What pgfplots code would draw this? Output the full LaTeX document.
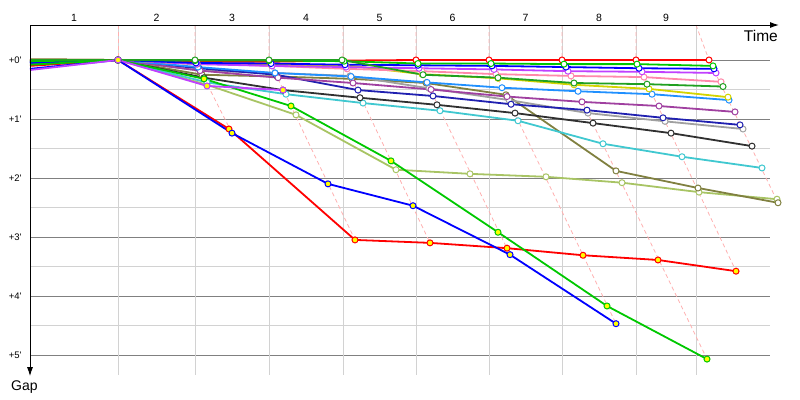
\documentclass[border=0pt]{standalone}
\usepackage{pgfplots}
\pgfplotsset{compat=1.18}
\usepackage{fontspec}
\setmainfont{Liberation Sans}
\usetikzlibrary{arrows.meta}
\definecolor{cLG}{HTML}{A8C464}
\definecolor{cOL}{HTML}{808040}
\definecolor{cCY}{HTML}{40C8D0}
\definecolor{cBK}{HTML}{303030}
\definecolor{cGR}{HTML}{A0A0A0}
\definecolor{cNV}{HTML}{2020B0}
\definecolor{cPU}{HTML}{A040A0}
\definecolor{cSB}{HTML}{2090FF}
\definecolor{cYE}{HTML}{D4D400}
\definecolor{cPK}{HTML}{FF88AA}
\definecolor{cDG}{HTML}{20A020}
\definecolor{cVI}{HTML}{C040FF}
\definecolor{cBL}{HTML}{0000FF}
\definecolor{cGN}{HTML}{00C800}
\definecolor{cRD}{HTML}{FF0000}
\definecolor{cYF}{HTML}{FFFF00}
\definecolor{lapline}{HTML}{FFB0B0}
\definecolor{gridlight}{HTML}{D2D2D2}
\definecolor{griddark}{HTML}{808080}
\pgfplotsset{
  drv/.style={line width=1.8pt, mark=*, mark repeat=1, mark phase=2, mark size=3pt,
    mark options={fill=white, line width=1pt, solid}},
  lag/.style={line width=1.8pt, mark=*, mark repeat=1, mark phase=2, mark size=3pt,
    mark options={fill=cYF, line width=1pt, solid}},
  lap/.style={lapline, line width=0.8pt, dash pattern=on 4pt off 3pt, no marks}
}
\begin{document}
\begin{tikzpicture}
\begin{axis}[
  scale only axis, width=740pt, height=350pt,
  xmin=30, xmax=770, ymin=-0.593, ymax=5.34, y dir=reverse,
  clip=false,
  axis line style={draw=none},
  tick style={draw=none},
  xtick={74,156.5,232,306,379.5,452.5,525.5,599,666},
  xticklabels={1,2,3,4,5,6,7,8,9},
  xticklabel pos=upper,
  xticklabel style={font=\fontsize{10.5}{12}\selectfont},
  extra x ticks={118,195,269,343,416,489,562,636,696},
  extra x tick labels={},
  extra x tick style={xmajorgrids=true, major x grid style={gridlight, line width=0.8pt}},
  ytick={0,1,2,3,4,5},
  yticklabels={+0\textquotesingle,+1\textquotesingle,+2\textquotesingle,+3\textquotesingle,+4\textquotesingle,+5\textquotesingle},
  yticklabel style={font=\fontsize{9.5}{11}\selectfont, xshift=-5pt},
  ymajorgrids, major y grid style={griddark, line width=0.8pt},
  minor ytick={0.5,1.5,2.5,3.5,4.5},
  yminorgrids, minor y grid style={gridlight, line width=0.8pt},
]
% lap lines
\addplot[lap] coordinates {(118,-0.593) (118,0)};
\addplot[lap] coordinates {(195,-0.593) (195,0) (232,1.24)};
\addplot[lap] coordinates {(269,-0.593) (269,0) (355,3.05)};
\addplot[lap] coordinates {(343,-0.593) (343,0) (430,3.10)};
\addplot[lap] coordinates {(416,-0.593) (416,0) (510,3.30)};
\addplot[lap] coordinates {(489,-0.593) (489,0) (616,4.47)};
\addplot[lap] coordinates {(562,-0.593) (562,0) (707,5.07)};
\addplot[lap] coordinates {(636,-0.593) (636,0) (736,3.58)};
\addplot[lap] coordinates {(696,-0.593) (709,0) (778,2.42)};
% drivers
\addplot[drv, cLG] coordinates {(30,0.02) (118,0) (207,0.42) (296,0.93) (396,1.86) (470,1.93) (546,1.98) (622,2.08) (699,2.24) (777,2.36)};
\addplot[drv, cOL] coordinates {(30,0.0) (118,0) (202,0.25) (277,0.28) (352,0.32) (426,0.39) (506,0.59) (616,1.88) (698,2.17) (778,2.42)};
\addplot[drv, cCY] coordinates {(30,0.04) (118,0) (207,0.38) (286,0.58) (363,0.73) (440,0.86) (518,1.03) (603,1.42) (682,1.64) (762,1.83)};
\addplot[drv, cBK] coordinates {(30,0.03) (118,0) (204,0.30) (283,0.51) (360,0.64) (437,0.76) (515,0.90) (593,1.07) (671,1.24) (752,1.46)};
\addplot[drv, cGR] coordinates {(30,0.02) (118,0) (200,0.18) (275,0.22) (350,0.27) (429,0.48) (509,0.68) (588,0.90) (665,1.04) (743,1.17)};
\addplot[drv, cNV] coordinates {(30,0.06) (118,0) (199,0.14) (276,0.25) (358,0.51) (433,0.61) (511,0.75) (587,0.85) (663,0.98) (740,1.10)};
\addplot[drv, cPU] coordinates {(30,0.05) (118,0) (200,0.18) (278,0.30) (353,0.39) (431,0.50) (507,0.62) (582,0.71) (659,0.78) (735,0.88)};
\addplot[drv, cSB] coordinates {(30,0.04) (118,0) (198,0.12) (275,0.22) (351,0.28) (427,0.38) (502,0.47) (578,0.53) (652,0.58) (729,0.68)};
\addplot[drv, cRD] coordinates {(30,-0.01) (118,0) (196,0.03) (270,0.03) (343,0.01) (416,0) (489,0) (562,0) (636,0) (709,0)};
\addplot[drv, cYE] coordinates {(30,0.0) (118,0) (197,0.07) (271,0.08) (346,0.09) (422,0.24) (498,0.31) (574,0.42) (649,0.49) (728,0.63)};
\addplot[drv, cPK] coordinates {(30,0.01) (118,0) (197,0.06) (272,0.10) (347,0.15) (422,0.19) (496,0.24) (571,0.27) (644,0.29) (721,0.37)};
\addplot[drv, cVI] coordinates {(30,0.03) (118,0) (197,0.07) (272,0.10) (346,0.12) (419,0.14) (494,0.16) (568,0.19) (642,0.20) (716,0.22)};
\addplot[drv, cBL] coordinates {(30,0.05) (118,0) (196,0.05) (271,0.06) (345,0.08) (418,0.09) (492,0.10) (566,0.12) (639,0.14) (714,0.15)};
\addplot[drv, cGN] coordinates {(30,0.02) (118,0) (195,0.01) (269,0.01) (344,0.02) (418,0.06) (491,0.06) (564,0.07) (637,0.07) (713,0.10)};
\addplot[drv, cDG] coordinates {(30,-0.01) (118,0) (195,0) (269,0) (342,0) (423,0.25) (498,0.30) (574,0.39) (647,0.41) (723,0.45)};
% lagging
\addplot[lag, cRD] coordinates {(30,0.10) (118,0) (229,1.17) (355,3.05) (430,3.10) (507,3.19) (583,3.31) (658,3.39) (736,3.58)};
\addplot[lag, cBL] coordinates {(30,0.15) (118,0) (232,1.24) (328,2.10) (413,2.47) (510,3.30) (616,4.47)};
\addplot[lag, cGN] coordinates {(30,0.08) (118,0) (204,0.32) (291,0.78) (391,1.71) (498,2.92) (607,4.17) (707,5.07)};
\addplot[lag, cVI] coordinates {(30,0.17) (118,0) (207,0.44) (283,0.51)};
% axes
\draw[black, line width=1pt, -{Latex[length=9pt,width=6pt]}] (axis cs:30,-0.593) -- (axis cs:779,-0.593);
\draw[black, line width=1pt, -{Latex[length=9pt,width=6pt]}] (axis cs:30,-0.593) -- (axis cs:30,5.36);
\node[anchor=base east, inner sep=0pt, font=\fontsize{15.5}{16}\selectfont] at (axis cs:778,-0.31) {Time};
\node[anchor=base west, inner sep=0pt, font=\fontsize{14}{15}\selectfont] at (axis cs:11,5.605) {Gap};
\path (axis cs:0,-1.0169) rectangle (axis cs:800,5.7627);
\end{axis}
\end{tikzpicture}
\end{document}
